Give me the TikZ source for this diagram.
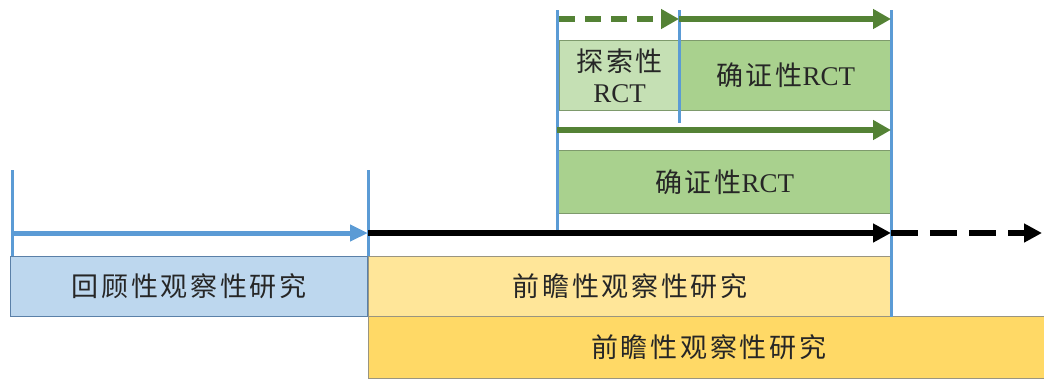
\documentclass[tikz,border=0pt]{standalone}
\usepackage{fontspec}
\setmainfont{Liberation Serif}
\newfontfamily\cjk[LetterSpace=10]{Noto Sans CJK SC}
\usetikzlibrary{arrows.meta}
\definecolor{lineblue}{HTML}{5B9BD5}
\definecolor{boxblue}{HTML}{BDD7EE}
\definecolor{edgeblue}{HTML}{5A80A8}
\definecolor{arrowgreen}{HTML}{548235}
\definecolor{boxgreen}{HTML}{A9D18E}
\definecolor{lightgreen}{HTML}{C5E0B4}
\definecolor{edgegreen}{HTML}{7E9A6C}
\definecolor{lightyellow}{HTML}{FFE699}
\definecolor{darkyellow}{HTML}{FFD966}
\definecolor{edgeyellow}{HTML}{9A9580}
\begin{document}
\begin{tikzpicture}[x=1pt, y=-1pt,
  box/.style={draw, line width=1.3pt, inner sep=0pt, anchor=north west, align=center,
    font=\fontsize{27}{31}\selectfont, text=black!85},
  tick/.style={lineblue, line width=3pt},
  bluearrow/.style={lineblue, line width=5pt, -{Triangle[length=18pt,width=16pt]}},
  blackarrow/.style={black, line width=6pt, -{Triangle[length=18pt,width=18pt]}},
  greenarrow/.style={arrowgreen, line width=6pt, -{Triangle[length=18pt,width=19pt]}}]
\useasboundingbox (0,0) rectangle (1044,378);
% boxes
\node[box, fill=darkyellow, draw=edgeyellow, minimum width=680pt, minimum height=62pt] (pro2) at (368,316) {{\cjk 前瞻性观察性研究}};
\node[box, fill=boxblue, draw=edgeblue, minimum width=357pt, minimum height=60pt] (retro) at (10,256) {{\cjk 回顾性观察性研究}};
\node[box, fill=lightyellow, draw=edgeyellow, minimum width=523pt, minimum height=60pt] (pro1) at (368,256) {{\cjk 前瞻性观察性研究}};
\node[box, fill=boxgreen, draw=edgegreen, minimum width=334pt, minimum height=63pt] (rct) at (557,150) {{\cjk 确证性}RCT};
\node[box, fill=lightgreen, draw=edgegreen, minimum width=120pt, minimum height=70pt] (explore) at (559,40) {{\cjk 探索性}\\RCT};
\node[box, fill=boxgreen, draw=edgegreen, minimum width=212pt, minimum height=70pt] (confirm) at (679,40) {{\cjk 确证性}RCT};
% ticks
\coordinate (k0) at (12,170);
\coordinate (k1) at (368,170);
\coordinate (k2) at (557,10);
\coordinate (k3) at (679,10);
\coordinate (k4) at (891,10);
\draw[tick] (k0) -- (retro.north west -| k0);
\draw[tick] (k1) -- (retro.north east -| k1);
\draw[tick] (k2) -- (k2 |- 0,232);
\draw[tick] (k3) -- (k3 |- 0,123);
\draw[tick] (k4) -- (pro1.south east -| k4);
% arrows
\coordinate (r0) at (12,233);
\coordinate (r1) at (368,233);
\coordinate (r2) at (891,233);
\coordinate (r3) at (1042,233);
\coordinate (m0) at (557,130);
\coordinate (m1) at (891,130);
\coordinate (g0) at (559,19);
\coordinate (g1) at (679,19);
\coordinate (g2) at (891,19);
\draw[bluearrow] (r0) -- (r1);
\draw[blackarrow] (r1) -- (r2);
\draw[blackarrow, dash pattern=on 27pt off 12pt] (r2) -- (r3);
\draw[greenarrow] (m0) -- (m1);
\draw[greenarrow, dash pattern=on 16pt off 10pt] (g0) -- (g1);
\draw[greenarrow] (g1) -- (g2);
\end{tikzpicture}
\end{document}
